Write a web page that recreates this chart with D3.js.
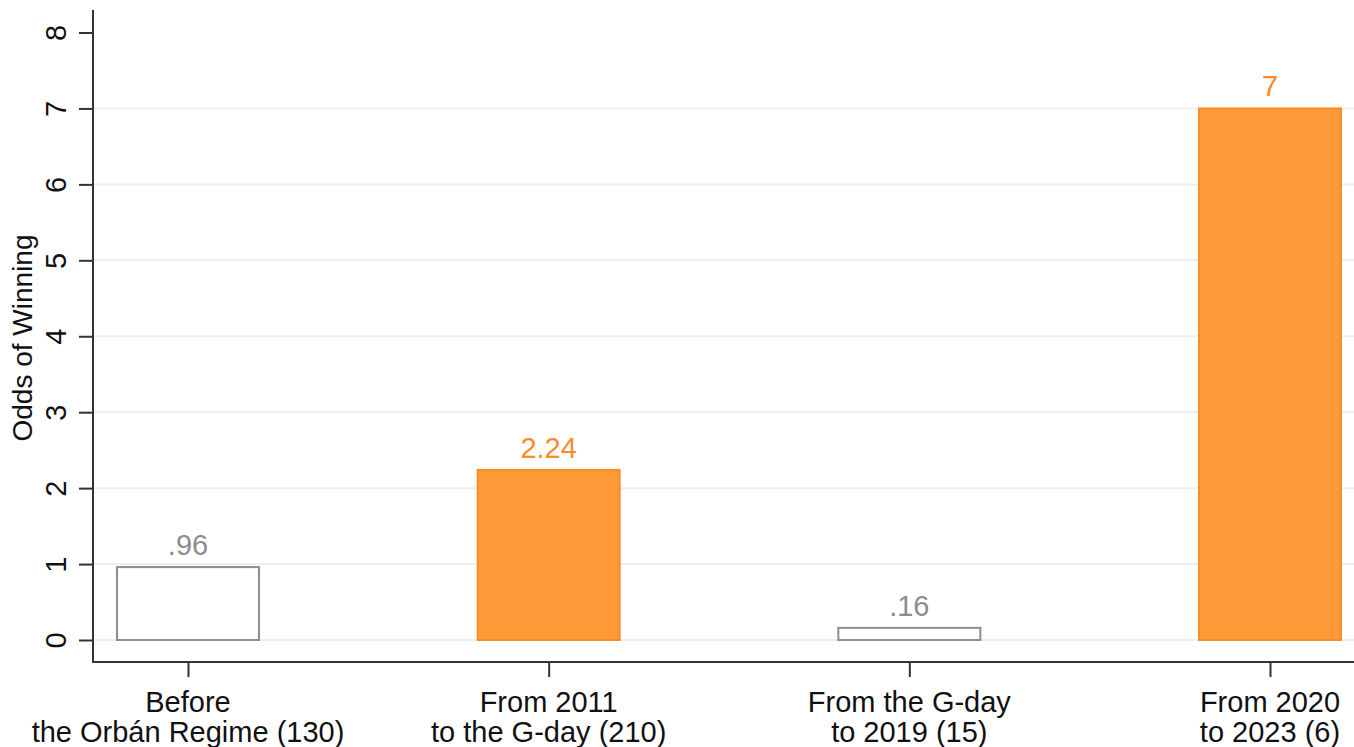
<!DOCTYPE html>
<html>
<head>
<meta charset="utf-8">
<script src="https://cdn.jsdelivr.net/npm/d3@7"></script>
<style>
  html, body { margin: 0; padding: 0; background: #fff; }
  svg { display: block; }
  text { font-family: "Liberation Sans", Arial, sans-serif; }
</style>
</head>
<body>
<svg id="chart" width="1354" height="747"></svg>
<script>
const categories = [
  ["Before", "the Orbán Regime (130)"],
  ["From 2011", "to the G-day (210)"],
  ["From the G-day", "to 2019 (15)"],
  ["From 2020", "to 2023 (6)"]
];
const values = [0.96, 2.24, 0.16, 7];
const valueLabels = [".96", "2.24", ".16", "7"];
const highlighted = [false, true, false, true];
const yTicks = [0, 1, 2, 3, 4, 5, 6, 7, 8];
const gridTicks = [0, 1, 2, 3, 4, 5, 6, 7];
const yTitle = "Odds of Winning";

const svg = d3.select("#chart");
const W = 1354, H = 747;

const axisX = 93, axisY = 662;
const y = d3.scaleLinear().domain([0, 8]).range([640, 32.5]);
const yTop = 10;

const idx = categories.map((d, i) => i);
const x = d3.scalePoint().domain(idx).range([188, 1270]).padding(0);
const barW = 142;

const orangeFill = "#fe9a37", orangeStroke = "#fa8d26", orangeText = "#f98b2a";
const grayStroke = "#8e8e8e", grayText = "#8c8c8c";

// gridlines
svg.append("g").selectAll("line").data(gridTicks).join("line")
  .attr("x1", axisX + 1).attr("x2", W)
  .attr("y1", d => y(d)).attr("y2", d => y(d))
  .attr("stroke", "#e8f0f2").attr("stroke-width", 2);

// bars
svg.append("g").selectAll("rect").data(values).join("rect")
  .attr("x", (d, i) => x(i) - barW / 2)
  .attr("width", barW)
  .attr("y", d => y(d))
  .attr("height", d => y(0) - y(d))
  .attr("fill", (d, i) => highlighted[i] ? orangeFill : "#ffffff")
  .attr("stroke", (d, i) => highlighted[i] ? orangeStroke : grayStroke)
  .attr("stroke-width", 2);

// value labels
svg.append("g").selectAll("text").data(values).join("text")
  .attr("x", (d, i) => x(i))
  .attr("y", d => y(d) - 12)
  .attr("text-anchor", "middle")
  .attr("font-size", 29)
  .attr("fill", (d, i) => highlighted[i] ? orangeText : grayText)
  .text((d, i) => valueLabels[i]);

// y axis
const gy = svg.append("g").attr("transform", `translate(${axisX},0)`);
gy.call(d3.axisLeft(y).tickValues(yTicks).tickSize(14).tickSizeOuter(0).tickFormat(d3.format("d")));
gy.select(".domain").remove();
gy.selectAll(".tick line").attr("stroke", "#333").attr("stroke-width", 2);
gy.selectAll(".tick text")
  .attr("font-size", 29).attr("fill", "#111")
  .attr("font-family", "Liberation Sans, Arial, sans-serif")
  .attr("x", null).attr("y", 0)
  .attr("text-anchor", "middle")
  .attr("dy", "0.36em")
  .attr("transform", "translate(-37,0) rotate(-90)");

svg.append("line")
  .attr("x1", axisX).attr("x2", axisX)
  .attr("y1", yTop).attr("y2", axisY + 1)
  .attr("stroke", "#333").attr("stroke-width", 2);

// x axis
svg.append("line")
  .attr("x1", axisX).attr("x2", W)
  .attr("y1", axisY).attr("y2", axisY)
  .attr("stroke", "#333").attr("stroke-width", 2);
const gx = svg.append("g").attr("transform", `translate(0,${axisY})`);
gx.call(d3.axisBottom(x).tickSize(15).tickSizeOuter(0).tickFormat(""));
gx.select(".domain").remove();
gx.selectAll(".tick line").attr("stroke", "#333").attr("stroke-width", 2);

const labels = svg.append("g").selectAll("text").data(categories).join("text")
  .attr("text-anchor", "middle")
  .attr("font-size", 29)
  .attr("fill", "#111");
labels.each(function(d, i) {
  const t = d3.select(this);
  d.forEach((line, j) => {
    t.append("tspan").attr("x", x(i)).attr("y", 712 + j * 30).text(line);
  });
});

// y title
svg.append("text")
  .attr("transform", `translate(32,${338}) rotate(-90)`)
  .attr("text-anchor", "middle")
  .attr("font-size", 28)
  .attr("fill", "#111")
  .text(yTitle);
</script>
</body>
</html>
